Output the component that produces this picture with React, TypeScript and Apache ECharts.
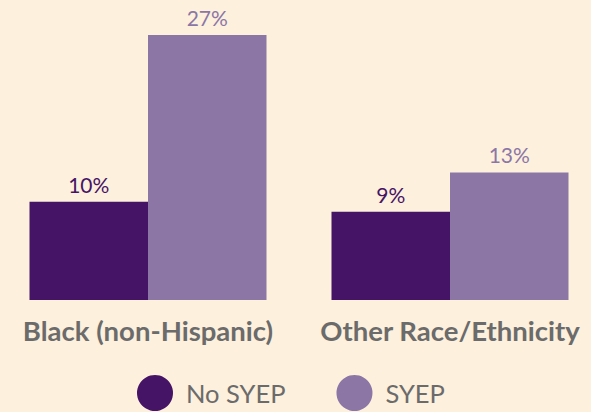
import React, { useEffect, useRef } from "react";
import * as echarts from "echarts";

const categories = ["Black (non-Hispanic)", "Other Race/Ethnicity"];
const noSyep = [10, 9];
const syep = [27, 13];
const seriesNames = ["No SYEP", "SYEP"];

const DARK = "#461466";
const LIGHT = "#8B76A6";
const GRAY = "#6B6B6B";
const BG = "#FDF0DD";
const FONT = "Lato";

export default function App() {
  const ref = useRef<HTMLDivElement>(null);
  useEffect(() => {
    if (!ref.current) return;
    const chart = echarts.init(ref.current, null, { renderer: "svg" });
    chart.setOption({
      animation: false,
      backgroundColor: BG,
      textStyle: { fontFamily: FONT },
      grid: { left: -3, width: 604, top: 5.6, bottom: 112, containLabel: false, outerBoundsMode: "none" },
      legend: {
        left: 137,
        top: 375,
        padding: 0,
        icon: "circle",
        itemWidth: 36,
        itemHeight: 36,
        itemGap: 51,
        textStyle: { color: GRAY, fontSize: 25.5, fontFamily: FONT, padding: [0, 0, 0, 8] },
        data: seriesNames,
      },
      xAxis: {
        type: "category",
        data: categories,
        axisLine: { show: false },
        axisTick: { show: false },
        axisLabel: { color: GRAY, fontSize: 27.5, fontWeight: "bold", margin: 16, fontFamily: FONT, interval: 0, hideOverlap: false },
      },
      yAxis: { type: "value", min: 0, max: 30, show: false, splitLine: { show: false } },
      series: [
        {
          name: seriesNames[0],
          type: "bar",
          data: noSyep,
          barWidth: 118.5,
          barGap: "0%",
          itemStyle: { color: DARK },
          label: { show: true, position: "top", distance: 7, formatter: "{c}%", color: DARK, fontSize: 21, fontFamily: FONT },
        },
        {
          name: seriesNames[1],
          type: "bar",
          data: syep,
          barWidth: 118.5,
          barGap: "0%",
          itemStyle: { color: LIGHT },
          label: { show: true, position: "top", distance: 7, formatter: "{c}%", color: LIGHT, fontSize: 21, fontFamily: FONT },
        },
      ],
    });
    return () => chart.dispose();
  }, []);
  return <div ref={ref} style={{ position: "fixed", left: 0, top: 0, width: 591, height: 412 }} />;
}
